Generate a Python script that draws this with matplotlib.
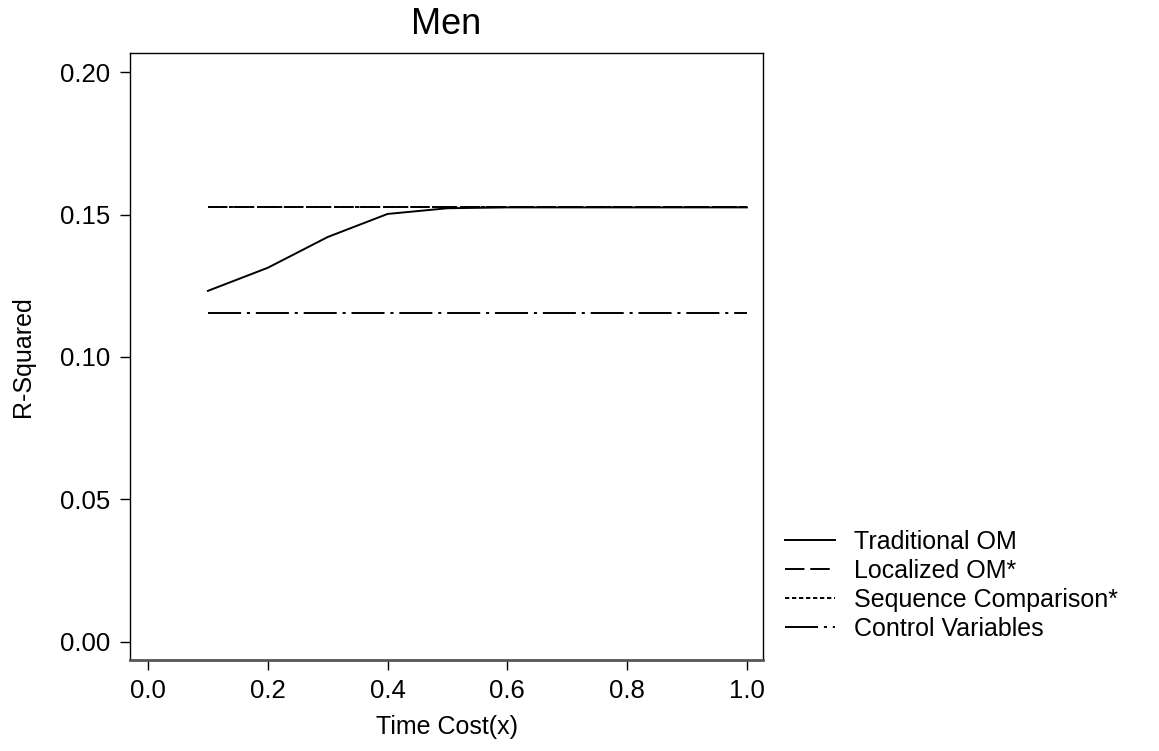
import matplotlib

matplotlib.use("Agg")
import matplotlib.pyplot as plt  # noqa: E402

plt.rcParams["font.family"] = ["Liberation Sans", "DejaVu Sans"]

time_cost = [0.1, 0.2, 0.3, 0.4, 0.5, 0.6, 0.7, 0.8, 0.9, 1.0]
traditional_om = [0.1232, 0.1313, 0.1421, 0.1502, 0.1522, 0.1525, 0.1525, 0.1525, 0.1525, 0.1525]
localized_om = [0.1528] * 10
sequence_comp = [0.1525] * 10
control_vars = [0.1155] * 10

x_ticks = [0.0, 0.2, 0.4, 0.6, 0.8, 1.0]
y_ticks = [0.00, 0.05, 0.10, 0.15, 0.20]

fig = plt.figure(figsize=(11.59, 7.51), dpi=100)
ax = fig.add_axes([0.1122, 0.1212, 0.5462, 0.8082])

lw = 1.4
ax.plot(time_cost, traditional_om, color="black", lw=lw, label="Traditional OM")
ax.plot(time_cost, localized_om, color="black", lw=lw, dashes=(10, 3), label="Localized OM*")
ax.plot(time_cost, sequence_comp, color="black", lw=lw, dashes=(2.2, 1.4), label="Sequence Comparison*")
ax.plot(time_cost, control_vars, color="black", lw=lw, dashes=(17, 3, 1.6, 3), label="Control Variables")

ax.set_xlim(-0.03, 1.027)
ax.set_ylim(-0.0064, 0.2067)
ax.set_xticks(x_ticks)
ax.set_xticklabels([f"{v:.1f}" for v in x_ticks])
ax.set_yticks(y_ticks)
ax.set_yticklabels([f"{v:.2f}" for v in y_ticks])
ax.tick_params(direction="out", length=7, width=1, labelsize=18.5)
ax.tick_params(axis="y", pad=7)
ax.tick_params(axis="x", pad=7)

for s in ("left", "right", "top"):
    ax.spines[s].set_linewidth(1)
    ax.spines[s].set_color("black")
ax.spines["bottom"].set_linewidth(2)
ax.spines["bottom"].set_color("#555555")

ax.set_title("Men", fontsize=26, pad=14)
ax.set_xlabel("Time Cost(x)", fontsize=18, labelpad=8)
ax.set_ylabel("R-Squared", fontsize=18, labelpad=18)

ax.legend(loc="upper left", bbox_to_anchor=(1.035, 0.214), frameon=False,
          fontsize=18, handlelength=2.0, handletextpad=0.75, labelspacing=0.2,
          borderpad=0, borderaxespad=0)

fig.savefig("out.png", dpi=100)
plt.close(fig)
